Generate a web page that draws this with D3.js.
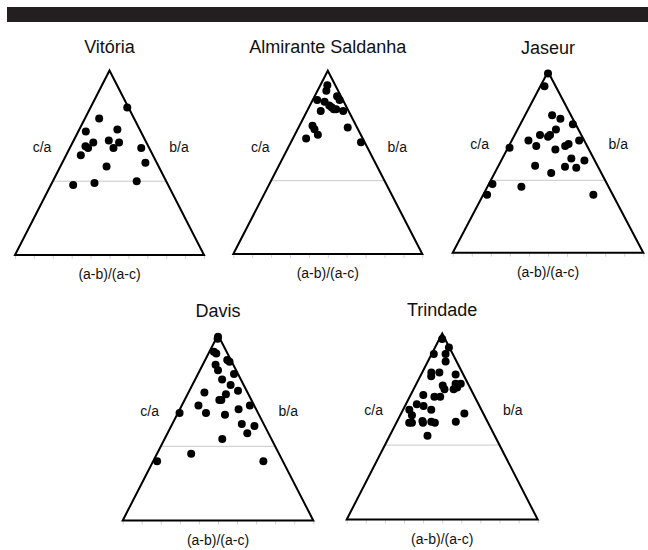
<!DOCTYPE html>
<html>
<head>
<meta charset="utf-8">
<script src="https://cdn.jsdelivr.net/npm/d3@7"></script>
<style>
  html, body { margin: 0; padding: 0; background: #fff; }
  svg { display: block; font-family: Arial, "Liberation Sans", Helvetica, sans-serif; }
</style>
</head>
<body>
<svg id="chart" width="648" height="550"></svg>
<script>
// ---- Data: each point is [c/a, (a-b)/(a-c)] ----
const sites = ["Vitória", "Almirante Saldanha", "Jaseur", "Davis", "Trindade"];
const boundaryCA = 0.4;           // horizontal reference line (c/a)
const baseTicks = [0, 0.1, 0.2, 0.3, 0.4, 0.5, 0.6, 0.7, 0.8, 0.9, 1];
const axisLabels = { left: "c/a", right: "b/a", bottom: "(a-b)/(a-c)" };

const vitoria = [
  [0.80,0.97],[0.74,0.29],[0.67,0.12],[0.68,0.63],[0.61,0.28],[0.62,0.49],
  [0.61,0.63],[0.59,0.19],[0.58,0.23],[0.58,0.55],[0.58,0.90],[0.54,0.17],
  [0.50,0.88],[0.48,0.47],[0.38,0.19],[0.39,0.37],[0.40,0.74]
];
const almiranteSaldanha = [
  [0.92,0.47],[0.89,0.43],[0.84,0.15],[0.83,0.40],[0.86,0.85],[0.84,0.89],
  [0.81,0.54],[0.79,0.65],[0.79,0.71],[0.80,0.60],[0.78,0.33],[0.78,0.87],
  [0.70,0.23],[0.68,0.28],[0.65,0.35],[0.63,0.19],[0.69,0.84],[0.61,0.95]
];
const jaseur = [
  [0.99,0.50],[0.92,0.27],[0.76,0.59],[0.74,0.75],[0.71,0.95],[0.68,0.63],
  [0.65,0.38],[0.64,0.50],[0.65,0.53],[0.62,0.23],[0.62,0.93],[0.58,0.02],
  [0.59,0.35],[0.57,0.59],[0.59,0.72],[0.60,0.77],[0.52,0.755],[0.51,0.89],
  [0.48,0.37],[0.475,0.67],[0.47,0.78],[0.44,0.53],[0.38,0.03],[0.365,0.28],
  [0.32,0.03],[0.32,0.85]
];
const davis = [
  [0.99,0.50],[0.98,0.40],[0.91,0.26],[0.90,0.41],[0.865,0.86],[0.856,0.92],
  [0.84,0.42],[0.81,0.50],[0.79,0.90],[0.76,0.59],[0.73,0.745],[0.69,0.27],
  [0.70,0.85],[0.68,0.63],[0.65,0.52],[0.65,0.55],[0.62,0.23],[0.58,0.35],
  [0.62,0.94],[0.58,0.02],[0.60,0.77],[0.57,0.585],[0.52,0.76],[0.51,0.89],
  [0.47,0.79],[0.44,0.54],[0.36,0.28],[0.32,0.03],[0.32,0.85]
];
const trindade = [
  [0.97,0.50],[0.925,0.97],[0.89,0.10],[0.89,0.66],[0.85,0.62],[0.79,0.23],
  [0.79,0.43],[0.77,0.25],[0.78,0.82],[0.72,0.51],[0.70,0.54],[0.73,0.76],
  [0.73,0.86],[0.70,0.70],[0.71,0.77],[0.66,0.38],[0.66,0.47],[0.67,0.20],
  [0.62,0.15],[0.61,0.25],[0.59,0.36],[0.59,0.08],[0.56,0.14],[0.52,0.14],
  [0.52,0.17],[0.53,0.28],[0.52,0.29],[0.525,0.38],[0.52,0.42],[0.57,0.77],
  [0.525,0.65],[0.45,0.36]
];
const siteData = [vitoria, almiranteSaldanha, jaseur, davis, trindade];

// ---- Layout ----
const layout = [
  { left: 15,    top: 70.5, w: 189,   h: 184.5, lab: 76 },
  { left: 233.3, top: 70.7, w: 189,   h: 183.3, lab: 76 },
  { left: 452.7, top: 71.7, w: 190.6, h: 181,   lab: 72 },
  { left: 122.7, top: 335,  w: 190.6, h: 185.5, lab: 76 },
  { left: 346.7, top: 333.5,w: 191,   h: 186,   lab: 76 }
];

const svg = d3.select("#chart");

// top black bar
svg.append("rect").attr("x", 7).attr("y", 7).attr("width", 641).attr("height", 15)
  .attr("fill", "#231f20");

sites.forEach((name, i) => {
  const L = layout[i];
  const base = L.top + L.h;
  // scales: y maps c/a (0 at base, 1 at apex); u maps base fraction to x
  const y = d3.scaleLinear().domain([0, 1]).range([base, L.top]);
  const u = d3.scaleLinear().domain([0, 1]).range([L.left, L.left + L.w]);
  const px = (ca, p) => u(ca / 2 + p * (1 - ca));

  const g = svg.append("g");

  // faint base ticks
  const ax = g.append("g").attr("transform", `translate(0,${base})`)
    .call(d3.axisBottom(u).tickValues(baseTicks).tickSize(4).tickFormat(""));
  ax.select(".domain").remove();
  ax.selectAll(".tick line").attr("stroke", "#d4d4d4").attr("stroke-width", 1);

  // reference line at c/a boundary
  g.append("line")
    .attr("x1", px(boundaryCA, 0)).attr("x2", px(boundaryCA, 1))
    .attr("y1", y(boundaryCA)).attr("y2", y(boundaryCA))
    .attr("stroke", "#c8c8c8").attr("stroke-width", 1);

  // triangle
  const tri = [[0, 0], [0, 1], [1, 0.5]].map(([ca, p]) => [px(ca, p), y(ca)]);
  g.append("path")
    .attr("d", d3.line()(tri) + "Z")
    .attr("fill", "none").attr("stroke", "#000").attr("stroke-width", 2)
    .attr("stroke-linejoin", "miter");

  // points
  g.selectAll("circle").data(siteData[i]).join("circle")
    .attr("cx", d => px(d[0], d[1]))
    .attr("cy", d => y(d[0]))
    .attr("r", 4)
    .attr("fill", "#000");

  // title
  g.append("text")
    .attr("x", u(0.5)).attr("y", L.top - 18)
    .attr("text-anchor", "middle").attr("font-size", 18).attr("fill", "#111")
    .text(name);

  // side labels
  g.append("text")
    .attr("x", L.left + 27).attr("y", L.top + L.lab + 5)
    .attr("text-anchor", "middle").attr("font-size", 14).attr("fill", "#111")
    .text(axisLabels.left);
  g.append("text")
    .attr("x", L.left + L.w - 25).attr("y", L.top + L.lab + 5)
    .attr("text-anchor", "middle").attr("font-size", 14).attr("fill", "#111")
    .text(axisLabels.right);
  g.append("text")
    .attr("x", u(0.5)).attr("y", base + 24)
    .attr("text-anchor", "middle").attr("font-size", 14).attr("fill", "#111")
    .text(axisLabels.bottom);
});
</script>
</body>
</html>
